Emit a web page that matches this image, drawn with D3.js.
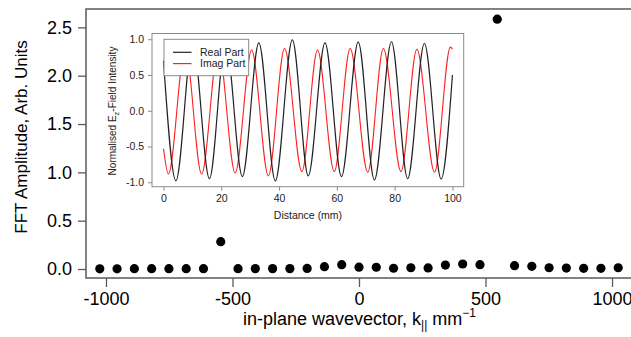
<!DOCTYPE html>
<html>
<head>
<meta charset="utf-8">
<script src="https://cdn.jsdelivr.net/npm/d3@7"></script>
<style>
  body { margin: 0; background: #fff; }
  svg { display: block; font-family: "Liberation Sans", Arial, sans-serif; }
</style>
</head>
<body>
<div id="chart"></div>
<script>
// FFT spectrum (main plot)
const kValues = [-1024.5, -956.2, -887.9, -819.6, -751.3, -683.0, -614.7, -546.4, -478.1, -409.8,
  -341.5, -273.2, -204.9, -136.6, -68.3, 0, 68.3, 136.6, 204.9, 273.2, 341.5, 409.8, 478.1,
  546.4, 614.7, 683.0, 751.3, 819.6, 887.9, 956.2, 1024.5];
const fftAmp = [0.002, 0.002, 0.003, 0.003, 0.003, 0.003, 0.003, 0.283, 0.003, 0.004,
  0.004, 0.004, 0.006, 0.024, 0.045, 0.019, 0.018, 0.008, 0.013, 0.011, 0.041, 0.052, 0.045,
  2.585, 0.034, 0.028, 0.013, 0.010, 0.007, 0.007, 0.013];
const mainXTicks = [-1000, -500, 0, 500, 1000];
const mainYTicks = [0, 0.5, 1.0, 1.5, 2.0, 2.5];

// inset: field along the distance, read at the peaks and troughs
const realDist = [0, 4.3, 10.1, 15.9, 21.5, 27.3, 33.0, 38.7, 44.6, 50.1, 55.9, 61.6, 67.4, 73.0, 78.9, 84.5, 90.3, 96.1, 100];
const realVal = [0.70, -0.98, 0.97, -0.95, 0.97, -0.92, 0.95, -0.98, 0.99, -0.91, 0.95, -0.92, 0.96, -0.97, 0.965, -0.95, 0.94, -0.955, 0.50];
const imagDist = [0, 1.7, 7.5, 13.2, 19.0, 24.8, 30.5, 36.3, 41.9, 47.9, 53.3, 59.1, 64.6, 70.7, 76.1, 82.2, 87.7, 93.8, 99.3, 100];
const imagVal = [-0.53, -0.885, 0.87, -0.885, 0.87, -0.87, 0.85, -0.91, 0.87, -0.85, 0.85, -0.85, 0.87, -0.86, 0.87, -0.85, 0.86, -0.86, 0.89, 0.86];
const insetXTicks = [0, 20, 40, 60, 80, 100];
const insetYTicks = [-1.0, -0.5, 0.0, 0.5, 1.0];
const legendLabels = ["Real Part", "Imag Part"];

const W = 631, H = 337;
const axisColor = "#5a5a5a";

const svg = d3.select("#chart").append("svg")
  .attr("width", W)
  .attr("height", H);

// ---- main plot ----
const x = d3.scaleLinear().domain([-1079, 1079]).range([86, 632]);
const y = d3.scaleLinear().domain([-0.093, 2.69]).range([278, 9]);

svg.append("rect")
  .attr("x", 86).attr("y", 9)
  .attr("width", 546).attr("height", 269)
  .attr("fill", "none")
  .attr("stroke", axisColor)
  .attr("stroke-width", 1.5);

const xAxis = svg.append("g")
  .attr("transform", "translate(0,278)")
  .call(d3.axisBottom(x).tickValues(mainXTicks).tickSize(9).tickPadding(5)
    .tickFormat(d3.format("d")));
const yAxis = svg.append("g")
  .attr("transform", "translate(86,0)")
  .call(d3.axisLeft(y).tickValues(mainYTicks).tickSize(8).tickPadding(6)
    .tickFormat(d3.format(".1f")));

[xAxis, yAxis].forEach(g => {
  g.select(".domain").remove();
  g.selectAll(".tick line").attr("stroke", axisColor).attr("stroke-width", 1.3);
  g.selectAll(".tick text")
    .attr("fill", "#000")
    .style("font-size", "18px")
    .style("font-family", "'Liberation Sans', Arial, sans-serif");
});
xAxis.selectAll(".tick text").text(d => d < 0 ? "-" + Math.abs(d) : d);

svg.append("g")
  .selectAll("circle")
  .data(kValues)
  .enter()
  .append("circle")
  .attr("cx", d => x(d))
  .attr("cy", (d, i) => y(fftAmp[i]))
  .attr("r", 4.6)
  .attr("fill", "#000");

// axis titles
const xTitle = svg.append("text")
  .attr("x", 243).attr("y", 325)
  .attr("text-anchor", "start")
  .style("font-size", "18px");
xTitle.append("tspan").text("in-plane wavevector, k");
xTitle.append("tspan").attr("dy", 4).style("font-size", "12px").text("||");
xTitle.append("tspan").attr("dy", -4).text(" mm");
xTitle.append("tspan").attr("dy", -8).style("font-size", "12px").text("\u22121");

svg.append("text")
  .attr("transform", "translate(27,137) rotate(-90)")
  .attr("text-anchor", "middle")
  .style("font-size", "17px")
  .text("FFT Amplitude, Arb. Units");

// ---- inset ----
const ix = d3.scaleLinear().domain([-3.98, 103.9]).range([152, 463.7]);
const iy = d3.scaleLinear().domain([-1.062, 1.08]).range([186.7, 33.5]);

const inset = svg.append("g");
inset.append("rect")
  .attr("x", 152).attr("y", 33.5)
  .attr("width", 311.7).attr("height", 153.2)
  .attr("fill", "#fff")
  .attr("stroke", "#8a8a8a")
  .attr("stroke-width", 1);

const ixAxis = inset.append("g")
  .attr("transform", "translate(0,186.7)")
  .call(d3.axisBottom(ix).tickValues(insetXTicks).tickSize(4).tickPadding(4));
const iyAxis = inset.append("g")
  .attr("transform", "translate(152,0)")
  .call(d3.axisLeft(iy).tickValues(insetYTicks).tickSize(4).tickPadding(4)
    .tickFormat(d => d < 0 ? "-" + d3.format(".1f")(-d) : d3.format(".1f")(d)));
[ixAxis, iyAxis].forEach(g => {
  g.select(".domain").remove();
  g.selectAll(".tick line").attr("stroke", "#8a8a8a");
  g.selectAll(".tick text")
    .attr("fill", "#222")
    .style("font-size", "10.5px")
    .style("font-family", "'Liberation Sans', Arial, sans-serif");
});

const line = d3.line().curve(d3.curveMonotoneX);
inset.append("path")
  .attr("d", line(imagDist.map((d, i) => [ix(d), iy(imagVal[i])])))
  .attr("fill", "none")
  .attr("stroke", "#ff2020")
  .attr("stroke-width", 1.1);
inset.append("path")
  .attr("d", line(realDist.map((d, i) => [ix(d), iy(realVal[i])])))
  .attr("fill", "none")
  .attr("stroke", "#222")
  .attr("stroke-width", 1.2);

inset.append("text")
  .attr("x", 308).attr("y", 219)
  .attr("text-anchor", "middle")
  .attr("fill", "#222")
  .style("font-size", "10.5px")
  .text("Distance (mm)");

const iyTitle = inset.append("text")
  .attr("transform", "translate(116,111) rotate(-90)")
  .attr("text-anchor", "middle")
  .attr("fill", "#222")
  .style("font-size", "10px");
iyTitle.append("tspan").text("Normalised E");
iyTitle.append("tspan").attr("dy", 3).style("font-size", "7.5px").text("z");
iyTitle.append("tspan").attr("dy", -3).text("-Field Intensity");

// legend
const legend = inset.append("g");
legend.append("rect")
  .attr("x", 164).attr("y", 39.3)
  .attr("width", 84.7).attr("height", 36.4)
  .attr("fill", "#fff")
  .attr("stroke", "#8a8a8a");
const legendColors = ["#222", "#ff2020"];
legendLabels.forEach((lab, i) => {
  const ly = 52.3 + i * 11.3;
  legend.append("line")
    .attr("x1", 173).attr("x2", 191.5)
    .attr("y1", ly).attr("y2", ly)
    .attr("stroke", legendColors[i])
    .attr("stroke-width", 1.2);
  legend.append("text")
    .attr("x", 200).attr("y", ly + 3.8)
    .attr("fill", "#222")
    .style("font-size", "10.5px")
    .text(lab);
});
</script>
</body>
</html>
